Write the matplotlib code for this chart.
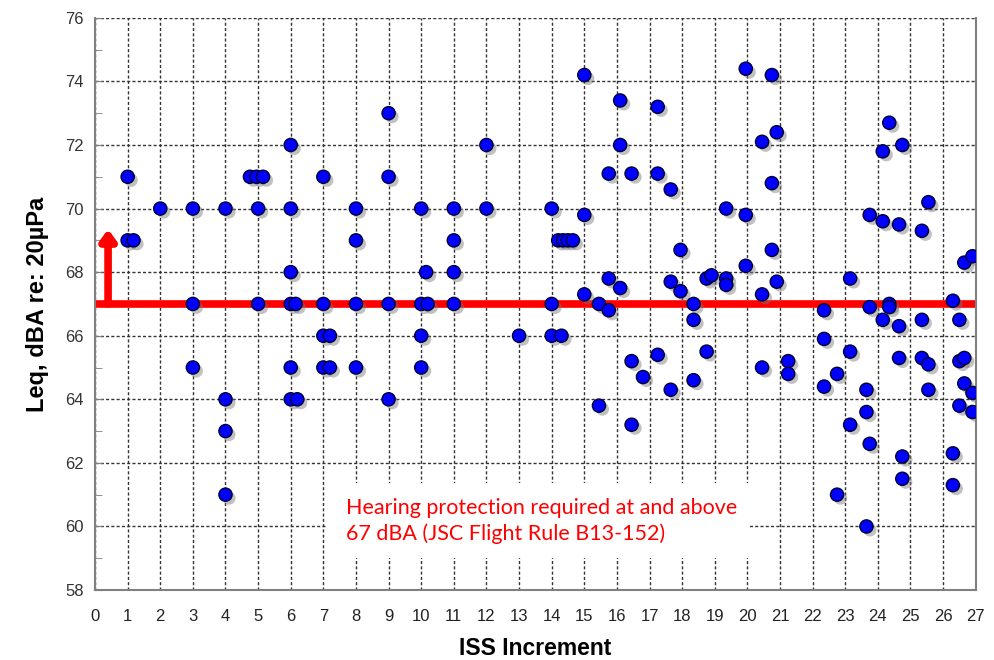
import matplotlib
matplotlib.use('Agg')
import matplotlib.pyplot as plt
import matplotlib.patheffects as pe
from matplotlib.patches import Rectangle
from matplotlib.ticker import MultipleLocator

# ISS increment (jittered within increment) and measured Leq values
increment = [1, 1, 1.18,
             2,
             3, 3, 3,
             4, 4, 4, 4,
             4.75, 4.95, 5.15, 5, 5,
             6, 6, 6, 6, 6.15, 6, 6, 6.2,
             7, 7, 7, 7.2, 7, 7.2,
             8, 8, 8, 8,
             9, 9, 9, 9,
             10, 10.15, 10, 10.2, 10, 10,
             11, 11, 11, 11,
             12, 12,
             13,
             14, 14, 14, 14.3, 14.2, 14.35, 14.5, 14.65,
             15.0, 15.0, 15.0,
             15.45, 15.45,
             15.75, 15.75, 15.75,
             16.1, 16.1, 16.1,
             16.45, 16.45, 16.45,
             16.8,
             17.25, 17.25, 17.25,
             17.65, 17.65, 17.65,
             17.95, 17.95,
             18.35, 18.35, 18.35,
             18.75, 18.75,
             18.9,
             19.35, 19.35, 19.35,
             19.95, 19.95, 19.95,
             20.45, 20.45, 20.45,
             20.75, 20.75, 20.75,
             20.9, 20.9,
             21.25, 21.25,
             22.35, 22.35, 22.35,
             22.75, 22.75,
             23.15, 23.15, 23.15,
             23.65, 23.65, 23.65,
             23.75, 23.75, 23.75,
             24.15, 24.15, 24.15,
             24.35, 24.35, 24.35,
             24.65, 24.65, 24.65,
             24.75, 24.75, 24.75,
             25.35, 25.35, 25.35,
             25.55, 25.55, 25.55,
             26.3, 26.3, 26.3,
             26.5, 26.5, 26.5,
             26.65, 26.65, 26.65,
             26.9, 26.9, 26.9]

leq = [71, 69, 69,
       70,
       70, 67, 65,
       70, 64, 63, 61,
       71, 71, 71, 70, 67,
       72, 70, 68, 67, 67, 65, 64, 64,
       71, 67, 66, 66, 65, 65,
       70, 69, 67, 65,
       73, 71, 67, 64,
       70, 68, 67, 67, 66, 65,
       70, 69, 68, 67,
       72, 70,
       66,
       70, 67, 66, 66, 69, 69, 69, 69,
       74.2, 69.8, 67.3,
       67.0, 63.8,
       71.1, 67.8, 66.8,
       73.4, 72.0, 67.5,
       71.1, 65.2, 63.2,
       64.7,
       73.2, 71.1, 65.4,
       70.6, 67.7, 64.3,
       68.7, 67.4,
       67.0, 66.5, 64.6,
       67.8, 65.5,
       67.9,
       70.0, 67.8, 67.6,
       74.4, 69.8, 68.2,
       72.1, 67.3, 65.0,
       74.2, 70.8, 68.7,
       72.4, 67.7,
       65.2, 64.8,
       66.8, 65.9, 64.4,
       64.8, 61.0,
       67.8, 65.5, 63.2,
       64.3, 63.6, 60.0,
       69.8, 66.9, 62.6,
       71.8, 69.6, 66.5,
       72.7, 67.0, 66.9,
       69.5, 66.3, 65.3,
       72.0, 62.2, 61.5,
       69.3, 66.5, 65.3,
       70.2, 65.1, 64.3,
       67.1, 62.3, 61.3,
       66.5, 65.2, 63.8,
       68.3, 65.3, 64.5,
       68.5, 64.2, 63.6]

limit_dba = 67
note = 'Hearing protection required at and above\n67 dBA (JSC Flight Rule B13-152)'

plt.rcParams['font.family'] = ['Liberation Sans Narrow', 'Liberation Sans', 'DejaVu Sans']

fig = plt.figure(figsize = (9.94, 6.60), dpi = 100)
ax = fig.add_axes([0.0956, 0.106, 0.886, 0.867])

ax.set_xlim(0, 27)
ax.set_ylim(58, 76)
ax.xaxis.set_major_locator(MultipleLocator(1))
ax.yaxis.set_major_locator(MultipleLocator(2))
ax.yaxis.set_minor_locator(MultipleLocator(1))

ax.set_axisbelow(True)
ax.grid(True, which = 'major', color = '#333333', linestyle = (0, (2.2, 1.6)), linewidth = 1.0)

for side in ['left', 'bottom', 'right']:
    ax.spines[side].set_color('#808080')
    ax.spines[side].set_linewidth(1.5)
ax.spines['top'].set_visible(False)

ax.tick_params(axis = 'x', length = 0, pad = 14, labelsize = 12, labelcolor = '#222222')
ax.tick_params(axis = 'y', which = 'both', direction = 'in', length = 5, color = '#808080', labelsize = 12, labelcolor = '#333333', pad = 8)

# 67 dBA limit line and arrow pointing up
ax.axhline(limit_dba, color = 'red', linewidth = 5.5, zorder = 2)
ax.annotate('', xy = (0.4, 69.35), xytext = (0.4, limit_dba), zorder = 2,
            arrowprops = dict(arrowstyle = '-|>,head_width=0.22,head_length=0.3', color = 'red', lw = 5.5, mutation_scale = 20, shrinkA = 0, shrinkB = 0))

ax.scatter(increment, leq, s = 90, color = '#0000ff', edgecolor = '#000033', linewidth = 1.0, zorder = 4,
           path_effects = [pe.SimplePatchShadow(offset = (2.5, -2.5), shadow_rgbFace = '#777777', alpha = 0.45), pe.Normal()])

# white panel behind the note (hides the grid)
ax.add_patch(Rectangle((7.08, 59.0), 13.0, 2.37, facecolor = 'white', edgecolor = 'none', zorder = 3))
ax.text(7.7, 60.17, note, color = 'red', fontsize = 15.5, family = ['Lato', 'DejaVu Sans'], va = 'center', ha = 'left',
        linespacing = 1.3, zorder = 3.5)

ax.set_xlabel('ISS Increment', fontsize = 16.5, fontweight = 'bold', labelpad = 9)
ax.set_ylabel('Leq, dBA re: 20µPa', fontsize = 17, fontweight = 'bold', labelpad = 12)

plt.savefig('out.png', dpi = 100)
